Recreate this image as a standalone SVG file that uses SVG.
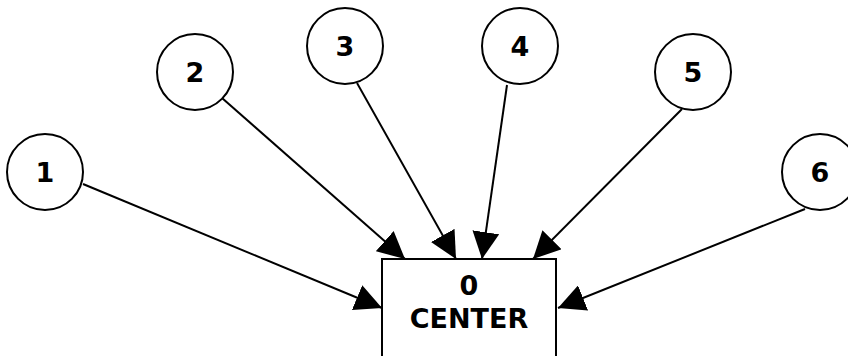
<svg xmlns="http://www.w3.org/2000/svg" width="848" height="356" viewBox="0 0 848 356">
  <style>
    .node circle, .node rect { fill: #ffffff; stroke: #000000; stroke-width: 2; }
    .node text { font-family: "DejaVu Sans", Verdana, sans-serif; font-weight: bold; font-size: 27px; fill: #000000; text-anchor: middle; }
    .edges line { stroke: #000000; stroke-width: 2; marker-end: url(#arrow); }
  </style>
  <defs>
    <marker id="arrow" markerUnits="userSpaceOnUse" markerWidth="27" markerHeight="27" refX="27" refY="13.5" orient="auto" viewBox="0 0 27 27">
      <path d="M0,0 L27,13.5 L0,27 z" fill="#000000"/>
    </marker>
  </defs>
  <rect width="848" height="356" fill="#ffffff"/>

  <!-- connectors: outer nodes to the center box -->
  <g id="edges" class="edges">
    <line x1="83" y1="184" x2="382" y2="308"/>
    <line x1="222" y1="98" x2="405" y2="259"/>
    <line x1="357" y1="83" x2="456" y2="259"/>
    <line x1="507" y1="85" x2="482" y2="259"/>
    <line x1="682" y1="109" x2="533" y2="259"/>
    <line x1="805" y1="209" x2="558" y2="308"/>
  </g>

  <g id="node-center" class="node">
    <rect x="382" y="259" width="174" height="120"/>
    <text x="469" y="295">0</text>
    <text x="469" y="328">CENTER</text>
  </g>
  <g id="node-1" class="node">
    <circle cx="45" cy="172" r="38"/>
    <text x="45" y="182">1</text>
  </g>
  <g id="node-2" class="node">
    <circle cx="195" cy="72" r="38"/>
    <text x="195" y="82">2</text>
  </g>
  <g id="node-3" class="node">
    <circle cx="345" cy="46" r="38"/>
    <text x="345" y="56">3</text>
  </g>
  <g id="node-4" class="node">
    <circle cx="520" cy="46" r="38"/>
    <text x="520" y="56">4</text>
  </g>
  <g id="node-5" class="node">
    <circle cx="693" cy="72" r="38"/>
    <text x="693" y="82">5</text>
  </g>
  <g id="node-6" class="node">
    <circle cx="820" cy="172" r="38"/>
    <text x="820" y="182">6</text>
  </g>
</svg>
